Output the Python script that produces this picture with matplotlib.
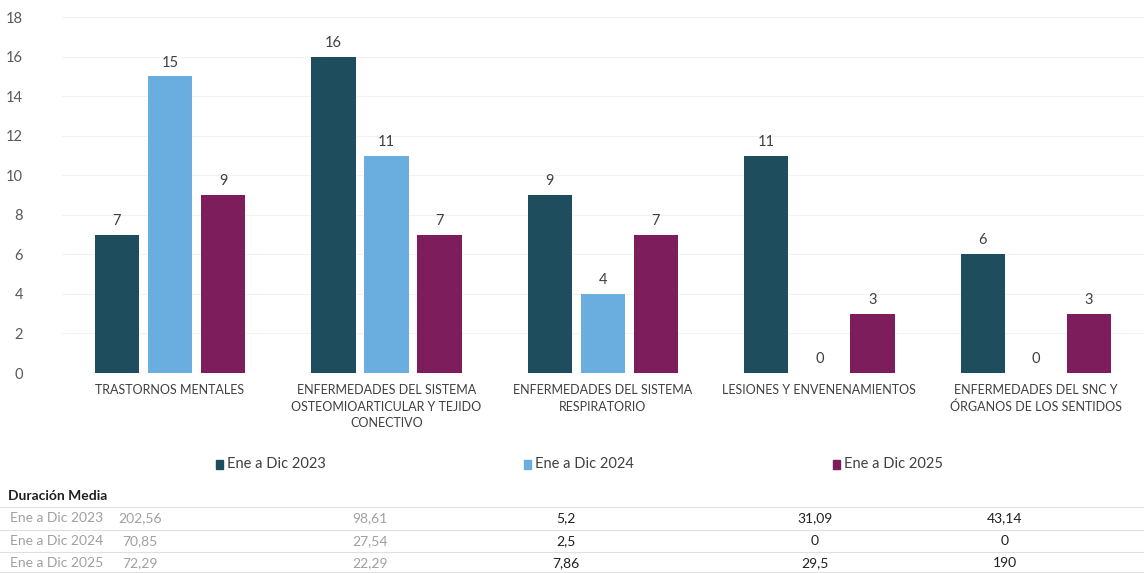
import matplotlib
matplotlib.use("Agg")
import matplotlib.pyplot as plt
import numpy as np

plt.rcParams['font.family'] = ['Lato', 'DejaVu Sans']

categories = ["TRASTORNOS MENTALES",
              "ENFERMEDADES DEL SISTEMA\nOSTEOMIOARTICULAR Y TEJIDO\nCONECTIVO",
              "ENFERMEDADES DEL SISTEMA\nRESPIRATORIO",
              "LESIONES Y ENVENENAMIENTOS",
              "ENFERMEDADES DEL SNC Y\nÓRGANOS DE LOS SENTIDOS"]
series_names = ["Ene a Dic 2023", "Ene a Dic 2024", "Ene a Dic 2025"]
v2023 = [7, 16, 9, 11, 6]
v2024 = [15, 11, 4, 0, 0]
v2025 = [9, 7, 7, 3, 3]
colors = ["#1e4d5e", "#69aede", "#7d1d5c"]

table_title = "Duración Media"
dur2023 = ["202,56", "98,61", "5,2", "31,09", "43,14"]
dur2024 = ["70,85", "27,54", "2,5", "0", "0"]
dur2025 = ["72,29", "22,29", "7,86", "29,5", "190"]

fig = plt.figure(figsize=(11.44, 5.73), dpi=100)
ax = fig.add_axes([0.054, 0.349, 0.946, 0.621])

x = np.arange(len(categories))
w = 0.205
step = 0.245
for i, (vals, c, name) in enumerate(zip([v2023, v2024, v2025], colors, series_names)):
    bars = ax.bar(x + (i - 1) * step, vals, w, color=c, label=name)
    for b, v in zip(bars, vals):
        ax.text(b.get_x() + b.get_width() / 2, v + 0.35, str(v), ha='center', va='bottom',
                fontsize=10.5, color='#404040')

ax.set_xlim(-0.5, len(categories) - 0.5)
ax.set_ylim(0, 18)
ax.set_yticks(range(0, 19, 2))
ax.tick_params(axis='y', length=0, labelsize=10.5, labelcolor='#595959', pad=28)
ax.tick_params(axis='x', length=0, labelsize=9, labelcolor='#404040', pad=8)
ax.set_xticks(x)
ax.set_xticklabels(categories, linespacing=1.45)
for s in ax.spines.values():
    s.set_visible(False)
ax.yaxis.grid(True, color='#f2f2f2', linewidth=0.8)
ax.set_axisbelow(True)

handles, labels = ax.get_legend_handles_labels()
leg_x = [216, 524, 833]
for hx, c, name in zip(leg_x, colors, series_names):
    fig.patches.append(plt.Rectangle((hx / 1144, 1 - 469 / 573), 7 / 1144, 9 / 573,
                                     transform=fig.transFigure, color=c, figure=fig))
    fig.text((hx + 11) / 1144, 1 - 464 / 573, name, fontsize=10.5, color='#404040', va='center')

fig.text(8 / 1144, 1 - 496 / 573, table_title, fontsize=10, fontweight='bold', color='#202020', va='center')
row_y = [518, 541, 563]
col_x = [140, 370, 566, 815, 1005]
for ry, name, vals in zip(row_y, series_names, [dur2023, dur2024, dur2025]):
    fig.text(10 / 1144, 1 - ry / 573, name, fontsize=10, color='#a0a0a0', va='center')
    for j, (cx, v) in enumerate(zip(col_x, vals)):
        col = '#a0a0a0' if j < 2 else '#202020'
        fig.text(cx / 1144, 1 - ry / 573, v, fontsize=10, color=col, va='center', ha='center')
for ly in [507, 530, 552, 572]:
    fig.add_artist(plt.Line2D([0, 1], [1 - ly / 573] * 2, color='#e0e0e0', linewidth=0.8,
                              transform=fig.transFigure))

fig.savefig("out.png", dpi=100)
